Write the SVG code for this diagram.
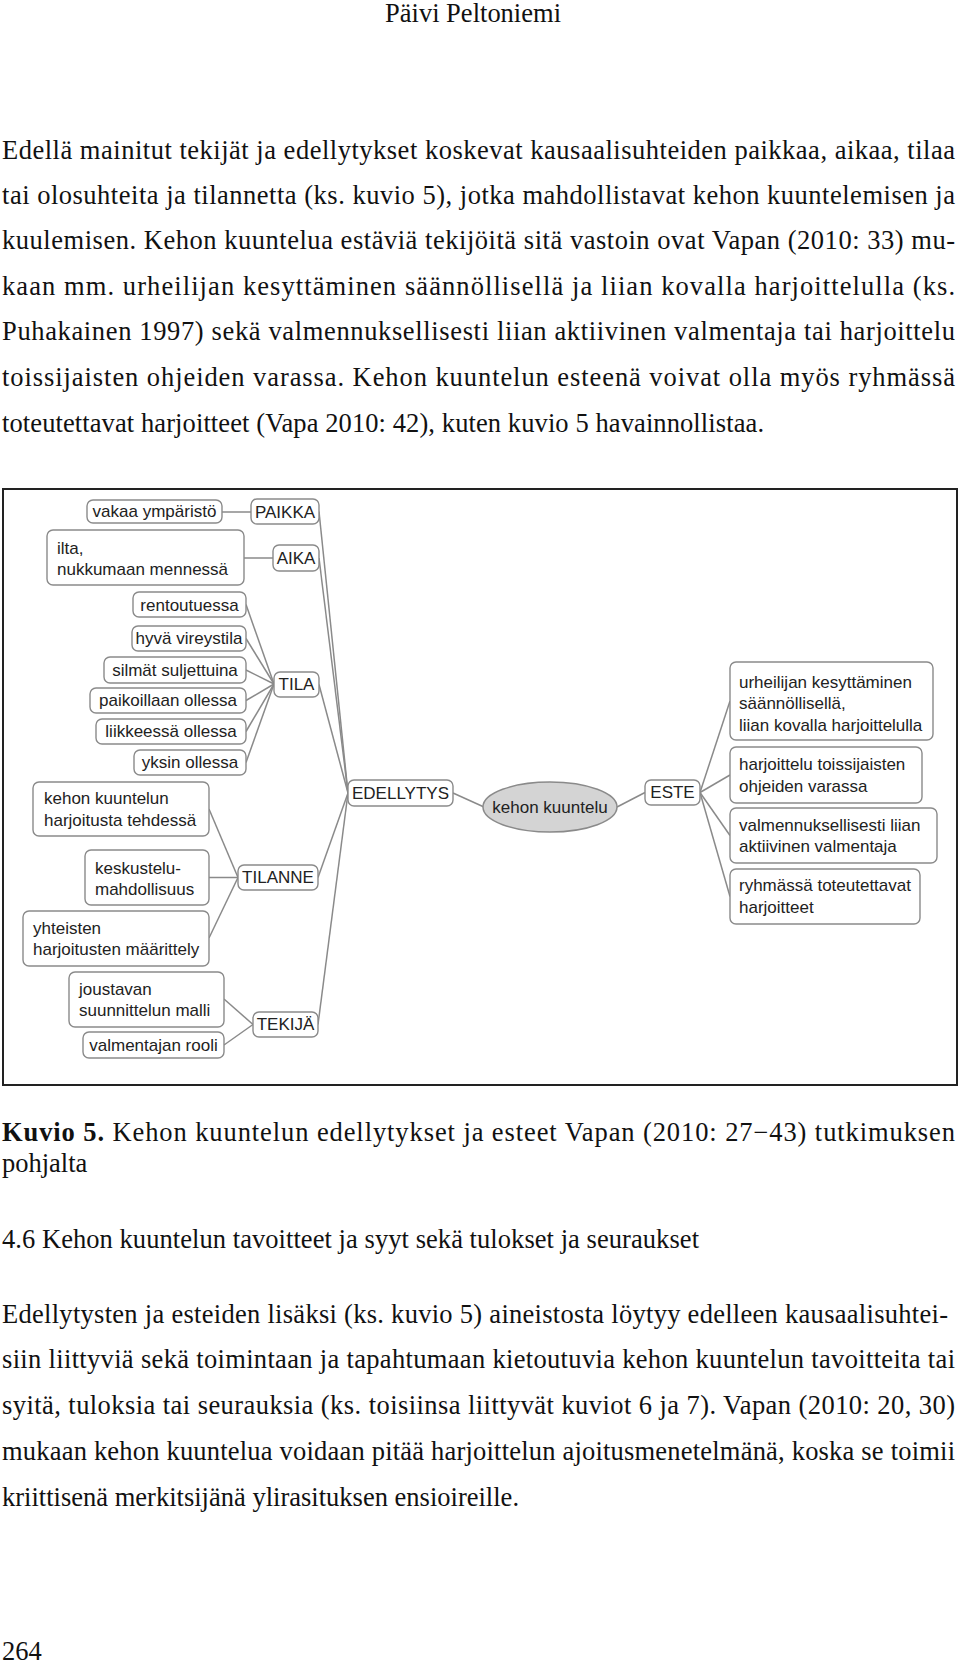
<svg xmlns="http://www.w3.org/2000/svg" width="960" height="1673" viewBox="0 0 960 1673">
<style>
.body{font-family:"Liberation Serif","Times New Roman",serif;font-size:26.5px;fill:#111}
.b{font-weight:bold}
.d{font-family:"Liberation Sans",Arial,sans-serif;font-size:17px;fill:#222}
.c{text-anchor:middle}
.box{fill:#fff;stroke:#8a8a8a;stroke-width:1.4}
.conn line{stroke:#8a8a8a;stroke-width:1.5}
</style>
<rect width="960" height="1673" fill="#fff"/>
<g id="page-text">
<text class="body" x="385" y="22" textLength="176" lengthAdjust="spacing">Päivi Peltoniemi</text>
<text class="body" x="2" y="159" textLength="953" lengthAdjust="spacing">Edellä mainitut tekijät ja edellytykset koskevat kausaalisuhteiden paikkaa, aikaa, tilaa</text>
<text class="body" x="2" y="204" textLength="953" lengthAdjust="spacing">tai olosuhteita ja tilannetta (ks. kuvio 5), jotka mahdollistavat kehon kuuntelemisen ja</text>
<text class="body" x="2" y="249" textLength="953" lengthAdjust="spacing">kuulemisen. Kehon kuuntelua estäviä tekijöitä sitä vastoin ovat Vapan (2010: 33) mu-</text>
<text class="body" x="2" y="295" textLength="953" lengthAdjust="spacing">kaan mm. urheilijan kesyttäminen säännöllisellä ja liian kovalla harjoittelulla (ks.</text>
<text class="body" x="2" y="340" textLength="953" lengthAdjust="spacing">Puhakainen 1997) sekä valmennuksellisesti liian aktiivinen valmentaja tai harjoittelu</text>
<text class="body" x="2" y="386" textLength="953" lengthAdjust="spacing">toissijaisten ohjeiden varassa. Kehon kuuntelun esteenä voivat olla myös ryhmässä</text>
<text class="body" x="2" y="432" textLength="762" lengthAdjust="spacing">toteutettavat harjoitteet (Vapa 2010: 42), kuten kuvio 5 havainnollistaa.</text>
<text class="body" x="2" y="1141" textLength="953" lengthAdjust="spacing"><tspan class="b">Kuvio 5.</tspan> Kehon kuuntelun edellytykset ja esteet Vapan (2010: 27−43) tutkimuksen</text>
<text class="body" x="2" y="1172">pohjalta</text>
<text class="body" x="2" y="1248" textLength="697" lengthAdjust="spacing">4.6 Kehon kuuntelun tavoitteet ja syyt sekä tulokset ja seuraukset</text>
<text class="body" x="2" y="1323" textLength="946" lengthAdjust="spacing">Edellytysten ja esteiden lisäksi (ks. kuvio 5) aineistosta löytyy edelleen kausaalisuhtei-</text>
<text class="body" x="2" y="1368" textLength="953" lengthAdjust="spacing">siin liittyviä sekä toimintaan ja tapahtumaan kietoutuvia kehon kuuntelun tavoitteita tai</text>
<text class="body" x="2" y="1414" textLength="953" lengthAdjust="spacing">syitä, tuloksia tai seurauksia (ks. toisiinsa liittyvät kuviot 6 ja 7). Vapan (2010: 20, 30)</text>
<text class="body" x="2" y="1460" textLength="953" lengthAdjust="spacing">mukaan kehon kuuntelua voidaan pitää harjoittelun ajoitusmenetelmänä, koska se toimii</text>
<text class="body" x="2" y="1506" textLength="517" lengthAdjust="spacing">kriittisenä merkitsijänä ylirasituksen ensioireille.</text>
<text class="body" x="2" y="1660">264</text>
</g>
<rect id="frame" x="3" y="489" width="954" height="596" fill="none" stroke="#222" stroke-width="2"/>
<g id="connectors" class="conn">
<line x1="222" y1="512" x2="251" y2="512"/>
<line x1="244" y1="558" x2="273" y2="558"/>
<line x1="246" y1="604.5" x2="274" y2="684"/>
<line x1="246" y1="638.5" x2="274" y2="684"/>
<line x1="246" y1="670" x2="274" y2="684"/>
<line x1="246" y1="700.5" x2="274" y2="684"/>
<line x1="246" y1="731.5" x2="274" y2="684"/>
<line x1="246" y1="762.5" x2="274" y2="684"/>
<line x1="209" y1="809" x2="238" y2="877.5"/>
<line x1="209" y1="877.5" x2="238" y2="877.5"/>
<line x1="209" y1="938" x2="238" y2="877.5"/>
<line x1="224" y1="999" x2="253" y2="1024.5"/>
<line x1="224" y1="1045" x2="253" y2="1024.5"/>
<line x1="319" y1="511.5" x2="348" y2="793"/>
<line x1="319" y1="558" x2="348" y2="793"/>
<line x1="319" y1="684.5" x2="348" y2="793"/>
<line x1="318" y1="877.5" x2="348" y2="793"/>
<line x1="318" y1="1024.5" x2="348" y2="793"/>
<line x1="453" y1="793" x2="484" y2="807"/>
<line x1="617" y1="807" x2="645" y2="792.5"/>
<line x1="700" y1="792.5" x2="730" y2="701"/>
<line x1="700" y1="792.5" x2="730" y2="775"/>
<line x1="700" y1="792.5" x2="730" y2="835.5"/>
<line x1="700" y1="792.5" x2="730" y2="896.5"/>
</g>
<g id="n-vakaa"><rect class="box" x="87" y="500" width="135" height="23" rx="6"/><text class="d c" x="154.5" y="517">vakaa ympäristö</text></g>
<g id="n-paikka"><rect class="box" x="251" y="499" width="68" height="25" rx="6"/><text class="d c" x="285" y="517.5">PAIKKA</text></g>
<g id="n-ilta"><rect class="box" x="47" y="530" width="197" height="55" rx="6"/><text class="d" x="57" y="554">ilta,</text><text class="d" x="57" y="575">nukkumaan mennessä</text></g>
<g id="n-aika"><rect class="box" x="273" y="545" width="46" height="26" rx="6"/><text class="d c" x="296" y="564">AIKA</text></g>
<g id="n-rentoutuessa"><rect class="box" x="133" y="592" width="113" height="25" rx="6"/><text class="d c" x="189.5" y="610.5">rentoutuessa</text></g>
<g id="n-vireystila"><rect class="box" x="132" y="626" width="114" height="25" rx="6"/><text class="d c" x="189" y="644">hyvä vireystila</text></g>
<g id="n-silmat"><rect class="box" x="104" y="657" width="142" height="26" rx="6"/><text class="d c" x="175" y="676">silmät suljettuina</text></g>
<g id="n-paikoillaan"><rect class="box" x="90" y="688" width="156" height="25" rx="6"/><text class="d c" x="168" y="706">paikoillaan ollessa</text></g>
<g id="n-liikkeessa"><rect class="box" x="96" y="719" width="150" height="25" rx="6"/><text class="d c" x="171" y="737">liikkeessä ollessa</text></g>
<g id="n-yksin"><rect class="box" x="134" y="750" width="112" height="25" rx="6"/><text class="d c" x="190" y="768">yksin ollessa</text></g>
<g id="n-tila"><rect class="box" x="274" y="672" width="45" height="25" rx="6"/><text class="d c" x="296.5" y="690">TILA</text></g>
<g id="n-harjoitusta"><rect class="box" x="33" y="782" width="176" height="54" rx="6"/><text class="d" x="44" y="804">kehon kuuntelun</text><text class="d" x="44" y="826">harjoitusta tehdessä</text></g>
<g id="n-keskustelu"><rect class="box" x="85" y="850" width="124" height="55" rx="6"/><text class="d" x="95" y="874">keskustelu-</text><text class="d" x="95" y="895">mahdollisuus</text></g>
<g id="n-tilanne"><rect class="box" x="238" y="865" width="80" height="25" rx="6"/><text class="d c" x="278" y="883">TILANNE</text></g>
<g id="n-yhteisten"><rect class="box" x="23" y="911" width="186" height="55" rx="6"/><text class="d" x="33" y="934">yhteisten</text><text class="d" x="33" y="955">harjoitusten määrittely</text></g>
<g id="n-joustavan"><rect class="box" x="69" y="972" width="155" height="55" rx="6"/><text class="d" x="79" y="995">joustavan</text><text class="d" x="79" y="1016">suunnittelun malli</text></g>
<g id="n-valmentajan"><rect class="box" x="83" y="1032" width="141" height="26" rx="6"/><text class="d c" x="153.5" y="1051">valmentajan rooli</text></g>
<g id="n-tekija"><rect class="box" x="253" y="1012" width="65" height="25" rx="6"/><text class="d c" x="285.5" y="1030">TEKIJÄ</text></g>
<g id="n-edellytys"><rect class="box" x="348" y="780" width="105" height="26" rx="6"/><text class="d c" x="400.5" y="799">EDELLYTYS</text></g>
<g id="n-center"><ellipse cx="550" cy="807" rx="67" ry="25" fill="#d4d4d4" stroke="#8a8a8a" stroke-width="1.5"/><text class="d c" x="550" y="813">kehon kuuntelu</text></g>
<g id="n-este"><rect class="box" x="645" y="780" width="55" height="25" rx="6"/><text class="d c" x="672.5" y="798">ESTE</text></g>
<g id="n-kesyttaminen"><rect class="box" x="730" y="662" width="203" height="78" rx="6"/><text class="d" x="739" y="688">urheilijan kesyttäminen</text><text class="d" x="739" y="709">säännöllisellä,</text><text class="d" x="739" y="731">liian kovalla harjoittelulla</text></g>
<g id="n-toissijaisten"><rect class="box" x="730" y="747" width="192" height="56" rx="6"/><text class="d" x="739" y="770">harjoittelu toissijaisten</text><text class="d" x="739" y="792">ohjeiden varassa</text></g>
<g id="n-valmennuksellisesti"><rect class="box" x="730" y="808" width="207" height="55" rx="6"/><text class="d" x="739" y="831">valmennuksellisesti liian</text><text class="d" x="739" y="852">aktiivinen valmentaja</text></g>
<g id="n-ryhmassa"><rect class="box" x="730" y="869" width="190" height="55" rx="6"/><text class="d" x="739" y="891">ryhmässä toteutettavat</text><text class="d" x="739" y="913">harjoitteet</text></g>
</svg>
